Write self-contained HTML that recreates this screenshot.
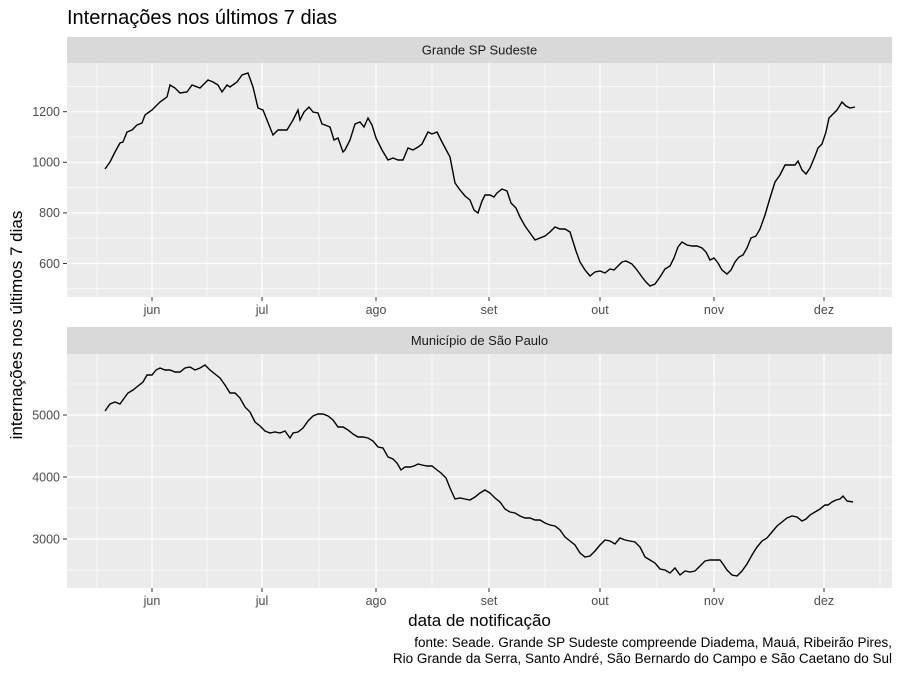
<!DOCTYPE html>
<html><head><meta charset="utf-8"><style>body{margin:0;background:#fff}</style></head><body>
<svg width="900" height="675" xmlns="http://www.w3.org/2000/svg" font-family="Liberation Sans, sans-serif">
<rect width="900" height="675" fill="#fff"/>
<text x="67" y="24" font-size="20" fill="#000">Internações nos últimos 7 dias</text>
<!-- panel 1 -->
<rect x="67" y="37" width="825" height="26" fill="#d9d9d9"/>
<text x="479.5" y="54.5" font-size="13" text-anchor="middle" fill="#1a1a1a">Grande SP Sudeste</text>
<rect x="67" y="63" width="825" height="234" fill="#ebebeb"/>
<g stroke="#fff" stroke-width="0.6">
<line x1="67" x2="892" y1="86.4" y2="86.4"/><line x1="67" x2="892" y1="137" y2="137"/><line x1="67" x2="892" y1="187.6" y2="187.6"/><line x1="67" x2="892" y1="238.2" y2="238.2"/><line x1="67" x2="892" y1="288.8" y2="288.8"/>
<line x1="97" x2="97" y1="63" y2="297"/><line x1="207" x2="207" y1="63" y2="297"/><line x1="319" x2="319" y1="63" y2="297"/><line x1="432" x2="432" y1="63" y2="297"/><line x1="545" x2="545" y1="63" y2="297"/><line x1="657" x2="657" y1="63" y2="297"/><line x1="769" x2="769" y1="63" y2="297"/><line x1="880" x2="880" y1="63" y2="297"/>
</g>
<g stroke="#fff" stroke-width="1.2">
<line x1="67" x2="892" y1="111.7" y2="111.7"/><line x1="67" x2="892" y1="162.3" y2="162.3"/><line x1="67" x2="892" y1="212.9" y2="212.9"/><line x1="67" x2="892" y1="263.5" y2="263.5"/>
<line x1="152" x2="152" y1="63" y2="297"/><line x1="262" x2="262" y1="63" y2="297"/><line x1="376" x2="376" y1="63" y2="297"/><line x1="489" x2="489" y1="63" y2="297"/><line x1="600" x2="600" y1="63" y2="297"/><line x1="714" x2="714" y1="63" y2="297"/><line x1="824" x2="824" y1="63" y2="297"/>
</g>
<polyline fill="none" stroke="#000" stroke-width="1.4" points="105,169 110,162 115,152 120,143 123,142 127,132 132,130 137,125 142,123 145,115 152,110 156,106 160,102 167,97 170,85 175,88 180,93 187,92 192,85 200,88 208,80 213,82 218,85 222,92 227,85 230,87 237,82 242,75 248,73 253,87 258,108 263,110 267,120 273,135 278,130 287,130 293,120 298,110 300,120 304,112 309,107 313,112 318,113 322,124 325,125 330,127 334,140 338,138 343,152 345,150 350,140 355,124 360,122 364,127 368,118 372,125 376,138 382,150 388,160 393,158 398,160 403,160 408,148 413,150 418,147 422,144 428,132 432,134 437,132 442,142 450,157 455,183 460,190 465,196 470,200 474,210 478,213 482,201 485,195 490,195 494,197 497,193 502,189 507,191 511,203 516,208 520,217 525,226 530,233 535,240 540,238 545,236 550,232 555,227 560,229 565,229 570,232 576,251 580,262 585,270 590,276 595,272 600,271 605,273 610,269 614,270 618,266 622,262 626,261 632,264 637,270 642,277 646,282 650,286 655,284 660,277 665,269 670,266 674,258 678,247 682,242 687,245 692,246 697,246 702,248 706,252 710,260 714,258 718,263 722,270 727,274 731,270 735,262 739,257 743,255 747,248 751,238 756,236 760,229 765,215 770,198 775,182 780,175 785,165 790,165 795,165 798,161 802,170 806,174 810,168 815,156 818,148 822,144 826,132 829,118 833,114 837,110 842,102 846,106 850,108 855,107"/>
<g font-size="12.5" fill="#4d4d4d" text-anchor="end">
<text x="60" y="116">1200</text><text x="60" y="166.6">1000</text><text x="60" y="217.2">800</text><text x="60" y="267.8">600</text>
</g>
<g stroke="#333" stroke-width="1"><line x1="63" x2="67" y1="111.7" y2="111.7"/><line x1="63" x2="67" y1="162.3" y2="162.3"/><line x1="63" x2="67" y1="212.9" y2="212.9"/><line x1="63" x2="67" y1="263.5" y2="263.5"/>
<line x1="152" x2="152" y1="297" y2="301"/><line x1="262" x2="262" y1="297" y2="301"/><line x1="376" x2="376" y1="297" y2="301"/><line x1="489" x2="489" y1="297" y2="301"/><line x1="600" x2="600" y1="297" y2="301"/><line x1="714" x2="714" y1="297" y2="301"/><line x1="824" x2="824" y1="297" y2="301"/></g>
<g font-size="12.5" fill="#4d4d4d" text-anchor="middle">
<text x="152" y="314">jun</text><text x="262" y="314">jul</text><text x="376" y="314">ago</text><text x="489" y="314">set</text><text x="600" y="314">out</text><text x="714" y="314">nov</text><text x="824" y="314">dez</text>
</g>
<!-- panel 2 -->
<rect x="67" y="327" width="825" height="27" fill="#d9d9d9"/>
<text x="479.5" y="345" font-size="13" text-anchor="middle" fill="#1a1a1a">Município de São Paulo</text>
<rect x="67" y="354" width="825" height="234" fill="#ebebeb"/>
<g stroke="#fff" stroke-width="0.6">
<line x1="67" x2="892" y1="384" y2="384"/><line x1="67" x2="892" y1="446" y2="446"/><line x1="67" x2="892" y1="508" y2="508"/><line x1="67" x2="892" y1="570" y2="570"/>
<line x1="97" x2="97" y1="354" y2="588"/><line x1="207" x2="207" y1="354" y2="588"/><line x1="319" x2="319" y1="354" y2="588"/><line x1="432" x2="432" y1="354" y2="588"/><line x1="545" x2="545" y1="354" y2="588"/><line x1="657" x2="657" y1="354" y2="588"/><line x1="769" x2="769" y1="354" y2="588"/><line x1="880" x2="880" y1="354" y2="588"/>
</g>
<g stroke="#fff" stroke-width="1.2">
<line x1="67" x2="892" y1="415" y2="415"/><line x1="67" x2="892" y1="477" y2="477"/><line x1="67" x2="892" y1="539" y2="539"/>
<line x1="152" x2="152" y1="354" y2="588"/><line x1="262" x2="262" y1="354" y2="588"/><line x1="376" x2="376" y1="354" y2="588"/><line x1="489" x2="489" y1="354" y2="588"/><line x1="600" x2="600" y1="354" y2="588"/><line x1="714" x2="714" y1="354" y2="588"/><line x1="824" x2="824" y1="354" y2="588"/>
</g>
<polyline fill="none" stroke="#000" stroke-width="1.4" points="105,411 110,404 115,402 120,404 125,397 128,393 133,390 138,386 143,382 147,375 152,375 156,370 160,368 165,370 170,370 175,372 180,372 185,368 190,367 195,370 200,368 205,365 210,370 215,374 220,378 225,385 230,393 235,393 240,398 245,407 250,412 255,422 260,426 265,431 270,433 275,432 280,433 285,431 290,438 293,433 298,432 303,428 308,421 313,416 318,414 323,414 328,416 333,420 338,427 343,427 348,430 353,434 358,437 363,437 368,438 373,441 378,447 383,448 388,457 393,459 397,463 401,470 405,467 410,467 414,466 418,464 422,465 427,466 432,466 437,470 441,473 446,478 450,488 455,499 460,498 465,499 470,500 475,497 480,493 485,490 490,493 495,498 500,502 505,509 510,512 515,513 520,516 525,518 530,518 535,520 540,520 545,523 550,525 555,526 560,530 565,537 570,541 575,545 580,553 585,557 590,556 595,551 600,545 605,540 610,541 615,544 620,538 625,540 630,541 635,542 640,547 645,557 650,560 655,563 660,569 665,570 670,573 675,568 680,575 685,571 690,572 695,571 700,566 705,561 710,560 715,560 720,560 723,564 727,570 732,575 737,576 742,571 747,564 752,555 757,547 762,541 767,538 772,532 777,526 782,522 787,518 792,516 797,517 802,521 806,519 810,515 815,512 820,509 825,505 828,505 832,502 836,500 840,499 843,496 847,501 853,502"/>
<g font-size="12.5" fill="#4d4d4d" text-anchor="end">
<text x="60" y="419.3">5000</text><text x="60" y="481.3">4000</text><text x="60" y="543.3">3000</text>
</g>
<g stroke="#333" stroke-width="1"><line x1="63" x2="67" y1="415" y2="415"/><line x1="63" x2="67" y1="477" y2="477"/><line x1="63" x2="67" y1="539" y2="539"/>
<line x1="152" x2="152" y1="588" y2="592"/><line x1="262" x2="262" y1="588" y2="592"/><line x1="376" x2="376" y1="588" y2="592"/><line x1="489" x2="489" y1="588" y2="592"/><line x1="600" x2="600" y1="588" y2="592"/><line x1="714" x2="714" y1="588" y2="592"/><line x1="824" x2="824" y1="588" y2="592"/></g>
<g font-size="12.5" fill="#4d4d4d" text-anchor="middle">
<text x="152" y="605">jun</text><text x="262" y="605">jul</text><text x="376" y="605">ago</text><text x="489" y="605">set</text><text x="600" y="605">out</text><text x="714" y="605">nov</text><text x="824" y="605">dez</text>
</g>
<text x="479.5" y="626" font-size="17" text-anchor="middle" fill="#000">data de notificação</text>
<text transform="translate(22,325) rotate(-90)" font-size="17" text-anchor="middle" fill="#000">internações nos últimos 7 dias</text>
<g font-size="13.5" fill="#000" text-anchor="end">
<text x="892" y="647">fonte: Seade. Grande SP Sudeste compreende Diadema, Mauá, Ribeirão Pires,</text>
<text x="892" y="663">Rio Grande da Serra, Santo André, São Bernardo do Campo e São Caetano do Sul</text>
</g>
</svg>
</body></html>
